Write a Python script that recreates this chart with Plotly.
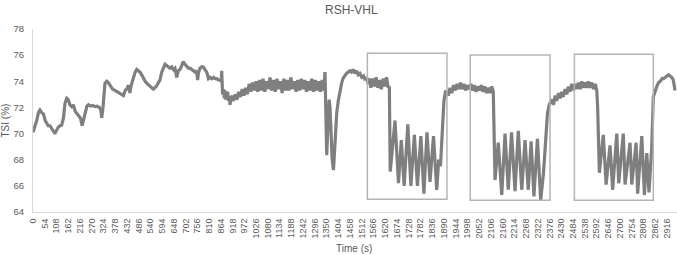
import plotly.graph_objects as go

# ---------------- data ----------------
time_s = [
    0, 8, 17, 25, 32, 40, 48, 56, 63, 70, 78, 90, 101, 110, 117, 125, 132, 140, 147, 155,
    162, 170, 178, 186, 194, 201, 210, 218, 226, 232, 240, 248, 255, 265, 275, 285, 295, 305, 312, 316,
    322, 331, 339, 346, 354, 366, 377, 388, 400, 410, 416, 424, 431, 439, 443, 446, 450, 462, 470, 477,
    485, 492, 500, 508, 516, 523, 531, 539, 546, 554, 562, 569, 577, 584, 592, 600, 607, 615, 622, 630,
    638, 646, 653, 661, 668, 676, 684, 691, 699, 707, 715, 722, 730, 738, 746, 753, 757, 762, 768, 775,
    783, 791, 799, 807, 814, 822, 830, 838, 845, 853, 860, 866, 868, 872, 876, 880, 883, 887, 891, 895,
    899, 903,
    906, 914, 922, 930, 938, 946, 954, 962, 970, 978, 986, 994, 1002, 1010, 1018, 1026, 1034, 1042, 1050, 1058,
    1066, 1074, 1082, 1090, 1098, 1106, 1114, 1122, 1130, 1138, 1146, 1154, 1162, 1170, 1178, 1186, 1194, 1202, 1210, 1218,
    1226, 1234, 1242, 1250, 1258, 1266, 1274, 1282, 1290, 1298, 1306, 1314, 1322, 1330, 1338,
    1343, 1347, 1351, 1356, 1362, 1366, 1371, 1376, 1382, 1388, 1397, 1405, 1412, 1420, 1427, 1435, 1442, 1450, 1458, 1465,
    1473, 1481, 1489, 1496, 1504, 1512, 1520, 1528, 1535, 1541,
    1546, 1554, 1562, 1570, 1578, 1586, 1594, 1602, 1610, 1618, 1626, 1634, 1639,
    1643, 1665, 1681, 1694, 1707, 1724, 1738, 1754, 1768, 1784, 1798, 1812, 1826, 1842, 1857, 1866, 1874, 1882, 1890, 1897,
    1903, 1910, 1918, 1926, 1934, 1942, 1950, 1958, 1966, 1974, 1982, 1990, 1998, 2006, 2014, 2022, 2030, 2038, 2046, 2054,
    2062, 2070, 2078, 2086, 2094, 2102, 2110, 2117,
    2125, 2140, 2156, 2171, 2186, 2201, 2217, 2232, 2248, 2263, 2278, 2291, 2304, 2320, 2335, 2348, 2358, 2366, 2374, 2378,
    2386, 2394, 2402, 2409, 2417, 2425, 2432, 2439, 2447, 2455, 2462, 2470, 2478, 2486, 2494, 2501, 2509, 2517, 2524, 2531,
    2539, 2547, 2554, 2562, 2570, 2578, 2586, 2593, 2597,
    2605, 2623, 2636, 2654, 2666, 2685, 2694, 2715, 2723, 2746, 2754, 2774, 2781, 2800, 2812, 2823, 2833, 2846, 2853, 2861,
    2869, 2877, 2885, 2893, 2900, 2908, 2915, 2923, 2930, 2938, 2945, 2950, 2953,
]

tsi_pct = [
    70.1, 70.5, 71.0, 71.6, 71.8, 71.6, 71.5, 71.0, 70.8, 70.6, 70.6, 70.3, 70.0, 70.3, 70.5, 70.6, 70.65, 71.2, 72.3, 72.7,
    72.6, 72.2, 72.06, 72.2, 71.7, 71.55, 71.4, 71.2, 70.6, 71.0, 71.7, 72.1, 72.2, 72.1, 72.15, 72.06, 72.1, 72.0, 71.8, 71.2,
    72.0, 73.85, 74.0, 73.9, 73.7, 73.4, 73.3, 73.2, 73.1, 73.0, 72.9, 73.3, 73.4, 73.7, 73.2, 73.1, 73.6, 74.3, 74.7, 74.9,
    74.8, 74.7, 74.5, 74.2, 74.0, 73.85, 73.7, 73.6, 73.5, 73.4, 73.5, 73.65, 73.9, 74.1, 74.7, 75.1, 75.3, 75.2, 75.1, 75.0,
    75.1, 74.9, 75.0, 74.3, 74.8, 74.9, 75.2, 75.5, 75.3, 75.1, 75.0, 75.0, 74.9, 74.8, 74.7, 74.8, 74.1, 74.7, 75.0, 75.1,
    75.1, 74.9, 74.7, 74.2, 74.3, 74.2, 74.3, 74.2, 74.2, 74.1, 74.1, 74.0, 74.8, 73.0, 73.4, 72.7, 73.3, 72.6, 72.8, 73.2,
    72.5, 72.9,
    72.2, 72.9, 72.5, 73.0, 72.6, 73.2, 72.8, 73.4, 72.9, 73.5, 73.0, 73.8, 73.2, 73.9, 73.3, 74.0, 73.2, 74.1, 73.3, 74.2,
    73.2, 74.0, 73.4, 74.3, 73.3, 74.1, 73.2, 74.2, 73.4, 74.0, 73.1, 74.2, 73.3, 74.1, 73.3, 74.3, 73.4, 74.0, 73.2, 74.1,
    73.3, 74.2, 73.4, 74.1, 73.2, 74.0, 73.3, 74.2, 73.2, 74.1, 73.3, 74.0, 73.2, 74.1, 73.3,
    74.7, 71.5, 68.35, 70.5, 72.6, 72.0, 70.0, 68.0, 67.2, 68.8, 71.6, 72.6, 73.3, 73.9, 74.25, 74.5, 74.6, 74.7, 74.8, 74.7,
    74.9, 74.6, 74.8, 74.5, 74.6, 74.3, 74.4, 74.1, 74.3, 73.8,
    74.2, 73.5, 74.2, 73.6, 74.3, 73.5, 74.1, 73.4, 74.2, 73.6, 74.3, 73.5, 73.6,
    67.1, 71.0, 66.2, 69.5, 66.0, 70.7, 66.0, 69.9, 66.0, 69.8, 65.4, 70.1, 66.3, 69.8, 65.7, 68.0, 67.5, 70.0, 72.5, 73.2,
    73.2, 72.9, 73.5, 73.1, 73.7, 73.3, 73.8, 73.4, 73.9, 73.4, 73.8, 73.3, 73.7, 73.4, 73.8, 73.3, 73.7, 73.2, 73.6, 73.3,
    73.7, 73.2, 73.6, 73.1, 73.5, 73.1, 73.6, 73.2,
    66.45, 69.3, 65.3, 70.0, 65.7, 70.1, 65.6, 70.2, 65.7, 69.5, 65.7, 69.4, 65.2, 69.6, 64.9, 67.0, 69.5, 71.5, 72.2, 72.3,
    72.6, 72.2, 72.9, 72.5, 73.1, 72.7, 73.2, 72.8, 73.4, 73.0, 73.6, 73.2, 73.8, 73.3, 73.8, 73.4, 73.9, 73.4, 74.0, 73.5,
    73.9, 73.5, 74.0, 73.5, 73.9, 73.4, 73.8, 73.3, 72.0,
    67.0, 69.9, 66.1, 69.1, 65.7, 70.0, 66.2, 70.0, 66.1, 69.3, 66.1, 69.3, 65.4, 69.8, 65.3, 68.5, 65.5, 69.0, 72.8, 73.3,
    73.6, 73.9, 74.0, 74.2, 74.2, 74.3, 74.4, 74.5, 74.4, 74.3, 74.1, 73.6, 73.3,
]

x_tick_values = [
    0, 54, 108, 162, 216, 270, 324, 378, 432, 486, 540, 594, 648, 702, 756, 810, 864, 918, 972,
    1026, 1080, 1134, 1188, 1242, 1296, 1350, 1404, 1458, 1512, 1566, 1620, 1674, 1728, 1782, 1836,
    1890, 1944, 1998, 2052, 2106, 2160, 2214, 2268, 2322, 2376, 2430, 2484, 2538, 2592, 2646, 2700,
    2754, 2808, 2862, 2916,
]
y_tick_values = [64, 66, 68, 70, 72, 74, 76, 78]

# highlighted exercise windows: (start s, end s, low TSI, high TSI)
window_start = [1538, 2011, 2490]
window_end = [1904, 2378, 2853]
window_low = [64.97, 64.89, 64.89]
window_high = [76.14, 76.01, 76.06]

# ---------------- figure ----------------
TXT = "#595959"
FONT = "Liberation Sans, Arial, sans-serif"

fig = go.Figure()
fig.add_trace(go.Scatter(
    x=time_s, y=tsi_pct, mode="lines",
    line=dict(color="#7f7f7f", width=3.2),
    hoverinfo="skip", showlegend=False,
))

for x0, x1, y0, y1 in zip(window_start, window_end, window_low, window_high):
    fig.add_shape(type="rect", xref="x", yref="y", x0=x0, x1=x1, y0=y0, y1=y1,
                  line=dict(color="#b4b4b4", width=1.5), fillcolor="rgba(0,0,0,0)")

fig.update_layout(
    width=677, height=255,
    margin=dict(l=33, r=0, t=29, b=43),
    paper_bgcolor="white", plot_bgcolor="white",
    font=dict(family=FONT, color=TXT),
    showlegend=False,
    xaxis=dict(
        range=[0, 2962], tickmode="array", tickvals=x_tick_values,
        ticktext=[str(v) for v in x_tick_values],
        tickangle=-90, tickfont=dict(size=9, color=TXT),
        showgrid=False, zeroline=False,
        showline=True, linecolor="#d9d9d9", linewidth=1,
        ticks="outside", ticklen=2, tickcolor="rgba(0,0,0,0)",
    ),
    yaxis=dict(
        range=[64, 78], tickmode="array", tickvals=y_tick_values,
        tickfont=dict(size=9.5, color=TXT),
        showgrid=False, zeroline=False,
        showline=True, linecolor="#d9d9d9", linewidth=1,
        ticks="outside", ticklen=6, tickcolor="rgba(0,0,0,0)",
    ),
    annotations=[
        dict(text="RSH-VHL", xref="paper", yref="paper", x=0.494, y=1.0, yshift=19,
             showarrow=False, font=dict(size=12, color=TXT), xanchor="center", yanchor="middle"),
        dict(text="Time (s)", xref="paper", yref="paper", x=0.499, y=0, yshift=-36,
             showarrow=False, font=dict(size=10, color=TXT), xanchor="center", yanchor="middle"),
        dict(text="TSI (%)", xref="paper", yref="paper", x=0, xshift=-28, y=0.5,
             textangle=-90, showarrow=False, font=dict(size=10, color=TXT),
             xanchor="center", yanchor="middle"),
    ],
)

fig.write_html("out.html")
